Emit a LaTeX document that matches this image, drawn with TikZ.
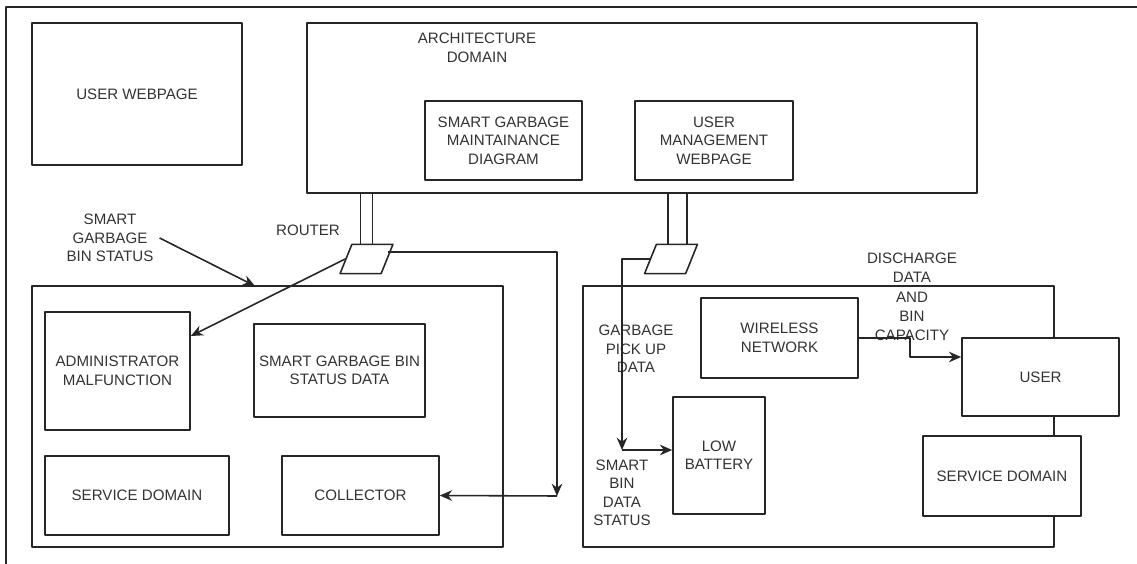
\documentclass[tikz,border=0pt]{standalone}
\usepackage{fontspec}
\setmainfont{Liberation Sans}
\usetikzlibrary{arrows.meta,shapes.geometric}

\begin{document}
\begin{tikzpicture}[x={(0.02cm,0cm)},y={(0cm,-0.02cm)},>={Stealth[length=7pt,width=6pt]},line join=round,
  every node/.style={font=\fontsize{8.6}{10.5}\selectfont,text=black!80,align=center},
  blk/.style={draw=black!85,line width=0.9pt,fill=white,inner sep=0pt},
  link/.style={draw=black!85,line width=0.9pt},
  router/.style={draw=black!85,line width=0.9pt,fill=white,trapezium,trapezium left angle=68,trapezium right angle=112,minimum width=1.06cm,minimum height=0.52cm,inner sep=1pt}]
  \useasboundingbox (0,0) rectangle (1137,564);
  \draw[line width=1.2pt,black!85] (6,564) -- (6,7) -- (1137,7);

  \node[blk,minimum width=4.2cm,minimum height=2.84cm] (userweb) at (137,94) {USER WEBPAGE};
  \node[blk,minimum width=13.4cm,minimum height=3.4cm] (arch) at (642,108) {};
  \node (archlbl) at (477,48) {ARCHITECTURE\\DOMAIN};
  \node[blk,minimum width=3.14cm,minimum height=1.58cm] (sgmd) at (503.5,140.5) {SMART GARBAGE\\MAINTAINANCE\\DIAGRAM};
  \node[blk,minimum width=3.16cm,minimum height=1.58cm] (umw) at (714,140.5) {USER\\MANAGEMENT\\WEBPAGE};

  \node[blk,minimum width=9.42cm,minimum height=5.22cm] (leftdom) at (267.5,416.5) {};
  \node[blk,minimum width=9.42cm,minimum height=5.22cm] (rightdom) at (818.5,416.5) {};

  \node[blk,minimum width=2.9cm,minimum height=2.36cm] (admin) at (117.5,371) {ADMINISTRATOR\\MALFUNCTION};
  \node[blk,minimum width=3.42cm,minimum height=1.86cm] (sgbsd) at (339.5,370.5) {SMART GARBAGE BIN\\STATUS DATA};
  \node[blk,minimum width=3.68cm,minimum height=1.58cm] (svcl) at (137,495.5) {SERVICE DOMAIN};
  \node[blk,minimum width=3.14cm,minimum height=1.58cm] (coll) at (360.5,495.5) {COLLECTOR};

  \node[blk,minimum width=3.14cm,minimum height=1.6cm] (wn) at (779.5,338) {WIRELESS\\NETWORK};
  \node[blk,minimum width=1.84cm,minimum height=2.34cm] (lowbat) at (719,455.5) {LOW\\BATTERY};
  \node[blk,minimum width=3.14cm,minimum height=1.56cm] (user) at (1040.5,377) {USER};
  \node[blk,minimum width=3.16cm,minimum height=1.6cm] (svcr) at (1002,476) {SERVICE DOMAIN};

  \node[router] (r1) at (366.5,259) {};
  \node[router] (r2) at (671,259) {};
  \draw[link] ([xshift=-0.12cm]r1.north) -- ([xshift=-0.12cm]r1.north |- arch.south);
  \draw[link] ([xshift=0.12cm]r1.north) -- ([xshift=0.12cm]r1.north |- arch.south);
  \draw[link] ([xshift=-0.06cm]r2.north) -- ([xshift=-0.06cm]r2.north |- arch.south);
  \draw[link] ([xshift=0.32cm]r2.north) -- ([xshift=0.32cm]r2.north |- arch.south);

  \node (routerlbl) at (308,230) {ROUTER};
  \node (sgbs) at (110,238) {SMART\\GARBAGE\\BIN STATUS};
  \node (gpud) at (636,349) {GARBAGE\\PICK UP\\DATA};
  \node (sbds) at (622,493) {SMART\\BIN\\DATA\\STATUS};
  \node[font=\fontsize{8.6}{11}\selectfont] (dcap) at (912,297) {DISCHARGE\\DATA\\AND\\BIN\\CAPACITY};

  \coordinate (cj) at (557,496);
  \coordinate (cb) at (622,450);
  \coordinate (cd) at (910,357);
  \coordinate (st) at (255,286);

  \draw[link,->] (sgbs.east) -- (st);
  \draw[link,->] (r1.west) -- ([yshift=0.7cm]admin.east);
  \draw[link,->] ([yshift=0.14cm]r1.east) -| (cj);
  \draw[link,->] (cj) -- (coll.east);
  \draw[link,->] (r2.west) -| (cb);
  \draw[link,->] (cb) -- (cb -| lowbat.west);
  \draw[link,->] (wn.east) -| (cd) -- (cd -| user.west);
\end{tikzpicture}
\end{document}
